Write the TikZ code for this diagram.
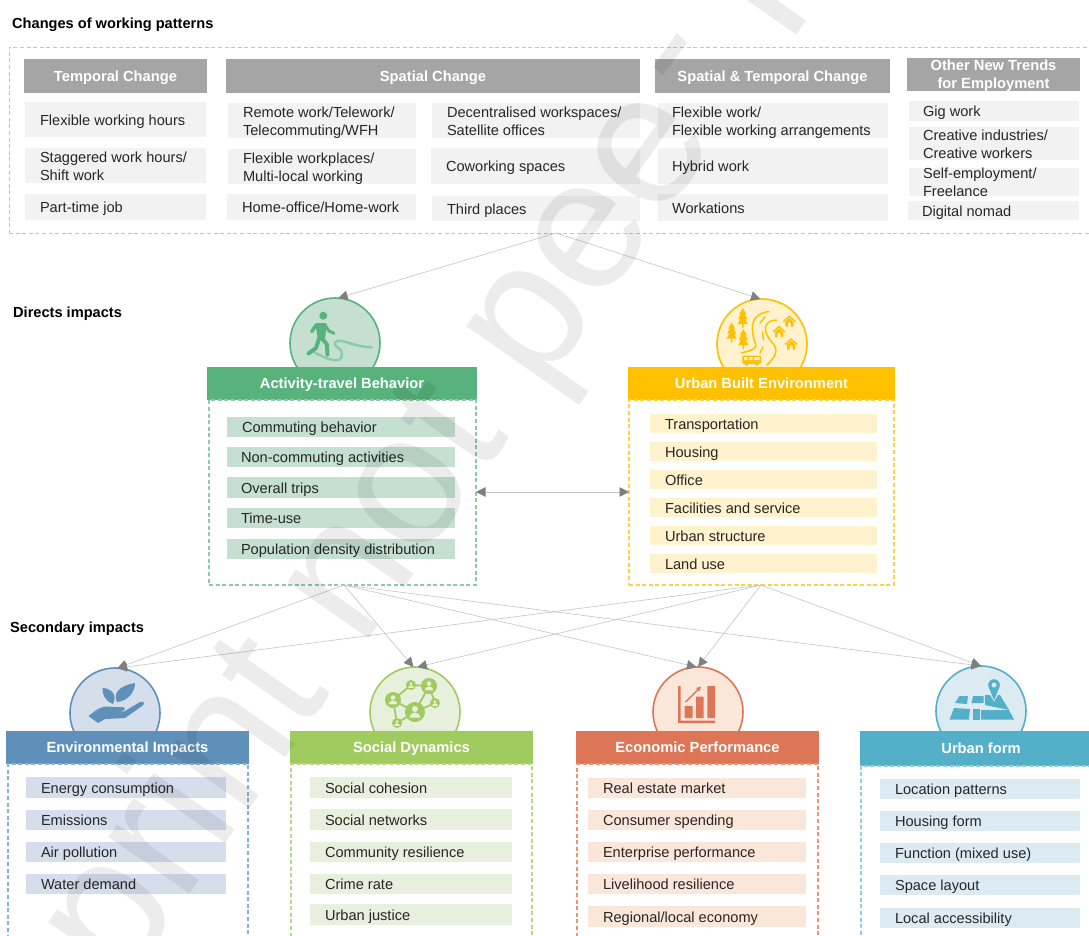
\documentclass[tikz,border=0pt]{standalone}
\usepackage{fontspec}
\setmainfont{Liberation Sans}
\usetikzlibrary{arrows.meta}
\definecolor{hgray}{HTML}{A5A5A5}\definecolor{igray}{HTML}{F2F2F2}
\definecolor{ag}{HTML}{57B27C}\definecolor{agl}{HTML}{C5E0D0}\definecolor{agd}{HTML}{8CCBA8}
\definecolor{ay}{HTML}{FFC000}\definecolor{ayl}{HTML}{FFF2CC}\definecolor{ayd}{HTML}{FFD040}
\definecolor{ab}{HTML}{5F90B9}\definecolor{abl}{HTML}{D5DFEC}\definecolor{abd}{HTML}{86B2DA}
\definecolor{as}{HTML}{A0CB5F}\definecolor{asl}{HTML}{E7EFDD}\definecolor{asd}{HTML}{B6DA82}
\definecolor{ae}{HTML}{DC7657}\definecolor{ael}{HTML}{FBE7D9}\definecolor{aed}{HTML}{EE9274}
\definecolor{af}{HTML}{54B0C9}\definecolor{afl}{HTML}{DCEBF2}\definecolor{afd}{HTML}{8DD0E0}
\definecolor{lin}{HTML}{C4C4C4}\definecolor{tip}{HTML}{7F7F7F}\definecolor{txt}{HTML}{262626}
\tikzset{
 boxbase/.style={rectangle,inner sep=0pt,outer sep=0pt},
 dbox/.style={draw=#1,dash pattern=on 4pt off 2.6pt,line width=1.2pt},
 outerbox/.style={draw=lin,dash pattern=on 4pt off 2.6pt,line width=0.9pt},
 itemtxt/.style={anchor=west,inner sep=0pt,outer sep=0pt,align=left,text=txt,yshift=-2.3pt,font=\fontsize{14.6}{18}\selectfont},
 hdrtxt/.style={inner sep=0pt,align=center,text=white,yshift=-1.5pt,font=\fontsize{14.7}{18}\selectfont\bfseries},
 seclabel/.style={anchor=west,inner sep=0pt,text=black,yshift=-1.5pt,font=\fontsize{14.6}{16}\selectfont\bfseries},
 conn/.style={draw=lin,line width=0.6pt,-{Triangle[length=9.5pt,width=9.5pt,color=tip]}},
 conn2/.style={draw=lin,line width=0.6pt,{Triangle[length=9.5pt,width=9.5pt,color=tip]}-{Triangle[length=9.5pt,width=9.5pt,color=tip]}},
 badge/.style={circle,minimum size=90pt,inner sep=0pt,outer sep=0pt,line width=1.6pt},
}
\newcommand{\rbox}[6]{\pgfmathsetmacro\rw{#4-#2}\pgfmathsetmacro\rh{#5-#3}%
 \node[boxbase,#6,minimum width=\rw pt,minimum height=\rh pt,anchor=north west] (#1) at (#2,#3) {};}
\newcommand{\itm}[8]{\rbox{#1}{#2}{#3}{#4}{#5}{fill=#6}%
 \node[itemtxt] (#1t) at (#7,{(#3+#5)/2}) {\strut #8\strut};}
\newcommand{\hdr}[7]{\rbox{#1}{#2}{#3}{#4}{#5}{fill=#6}%
 \node[hdrtxt] (#1t) at (#1.center) {\strut #7\strut};}
\newcommand{\netnode}[3]{\fill[as] (#1,#2) circle (#3);
 \fill[asl] (#1,{#2-0.3*#3}) circle ({0.3*#3});
 \fill[asl] ({#1-0.55*#3},{#2+0.55*#3}) arc (180:360:{0.55*#3} and {0.5*#3}) -- cycle;}
\newcommand{\tree}[2]{\fill[ay] (#1,{#2-9}) -- ({#1+3.5},{#2-3}) -- ({#1+2},{#2-3}) -- ({#1+4.5},{#2+2}) -- ({#1+2.5},{#2+2}) -- ({#1+5},{#2+7}) -- ({#1+0.7},{#2+7}) -- ({#1+0.7},{#2+11}) -- ({#1-0.7},{#2+11}) -- ({#1-0.7},{#2+7}) -- ({#1-5},{#2+7}) -- ({#1-2.5},{#2+2}) -- ({#1-4.5},{#2+2}) -- ({#1-2},{#2-3}) -- ({#1-3.5},{#2-3}) -- cycle;}
\newcommand{\house}[2]{\draw[ay,line width=1.4pt] ({#1-6},{#2}) -- (#1,{#2-5.5}) -- ({#1+6},{#2});
 \fill[ay] ({#1-4},{#2}) -- (#1,{#2-3.6}) -- ({#1+4},{#2}) -- ({#1+4},{#2+5}) -- ({#1+1.5},{#2+5}) -- ({#1+1.5},{#2+1}) -- ({#1-1.5},{#2+1}) -- ({#1-1.5},{#2+5}) -- ({#1-4},{#2+5}) -- cycle;}
\begin{document}
\begin{tikzpicture}[x=1pt,y=-1pt]
\useasboundingbox (0,0) rectangle (1089,935);
\clip (0,0) rectangle (1089,935);
\fill[white] (0,0) rectangle (1089,935);

% section labels
\node[seclabel] (l1) at (12,23) {Changes of working patterns};
\node[seclabel] (l2) at (13,312) {Directs impacts};
\node[seclabel] (l3) at (10,627) {Secondary impacts};

% working patterns
\rbox{outer}{9}{47}{1095}{233}{outerbox}
\hdr{h1}{24}{59}{207}{93}{hgray}{Temporal Change}
\hdr{h2}{226}{59}{640}{93}{hgray}{Spatial Change}
\hdr{h3}{655}{59}{890}{93}{hgray}{Spatial \& Temporal Change}
\hdr{h4}{907}{58}{1080}{91}{hgray}{Other New Trends\\for Employment}
\itm{t1}{25}{102}{206}{137}{igray}{40}{Flexible working hours}
\itm{t2}{25}{148}{206}{183}{igray}{40}{Staggered work hours/\\Shift work}
\itm{t3}{25}{194}{206}{220}{igray}{40}{Part-time job}
\itm{s1}{228}{103}{416}{138}{igray}{243}{Remote work/Telework/\\Telecommuting/WFH}
\itm{s2}{228}{149}{416}{184}{igray}{243}{Flexible workplaces/\\Multi-local working}
\itm{s3}{227}{194}{416}{220}{igray}{242}{Home-office/Home-work}
\itm{s4}{432}{103}{640}{138}{igray}{447}{Decentralised workspaces/\\Satellite offices}
\itm{s5}{431}{148}{640}{184}{igray}{446}{Coworking spaces}
\itm{s6}{432}{196}{640}{221}{igray}{447}{Third places}
\itm{b1}{658}{103}{888}{138}{igray}{672}{Flexible work/\\Flexible working arrangements}
\itm{b2}{658}{148}{888}{184}{igray}{672}{Hybrid work}
\itm{b3}{658}{194}{888}{221}{igray}{672}{Workations}
\itm{o1}{909}{101}{1079}{121}{igray}{923}{Gig work}
\itm{o2}{909}{127}{1079}{160}{igray}{923}{Creative industries/\\Creative workers}
\itm{o3}{909}{168}{1079}{196}{igray}{923}{Self-employment/\\Freelance}
\itm{o4}{908}{201}{1079}{220}{igray}{922}{Digital nomad}
\coordinate (outbot) at (556,233);

% direct impacts
\node[badge,draw=ag,fill=agl] (cact) at (335,343) {};
% walker icon
\draw[agd,line width=2.5pt,line cap=round] (315,352.7) .. controls (325,358) and (342,366) .. (342,354) .. controls (342,347) and (333,347) .. (335,343) .. controls (338,336) and (352,347) .. (372,347.3);
\fill[ag] (323.3,315.7) circle (4);
\fill[ag,rounded corners=1.5pt] (315,323) -- (327,323) -- (325,339) -- (318,339) -- cycle;
\draw[ag,line width=3.4pt,line cap=round,line join=round] (316,325) -- (311.7,331.7);
\draw[ag,line width=3pt,line cap=round,line join=round] (326,326.5) -- (329,331) -- (334,333.3);
\draw[ag,line width=4pt,line cap=round,line join=round] (321.7,338) -- (327,344.5) -- (327.5,354.5);
\draw[ag,line width=4pt,line cap=round,line join=round] (319,339) -- (316,348) -- (308.5,353.5);

\node[badge,draw=ay,fill=ayl] (cbuilt) at (762,344) {};
\tree{742.7}{317}\tree{731.7}{331.7}\tree{743.3}{338}
\house{789.3}{321.7}\house{779}{332}\house{791}{344.5}
\draw[ay,line width=1.5pt,line cap=round] (769,311.5) .. controls (750,314) and (752,328) .. (753,335) .. controls (755,346) and (762,348) .. (741.5,353);
\draw[ay,line width=1.5pt,line cap=round] (776.5,320) .. controls (762,321) and (764,332) .. (770,340) .. controls (780,350) and (776,356) .. (767,365);
\draw[ay,line width=1.5pt,line cap=round] (765,317) -- (760,323) (762.5,332) -- (763.5,340) (763,347) -- (760,353);
\fill[ay,rounded corners=1.2pt] (742.3,355.5) rectangle (761,364);
\fill[ayl] (744,357.2) rectangle (747.5,360) (749,357.2) rectangle (752.5,360) (754,357.2) rectangle (759.5,360);
\fill[ay] (746.5,364.5) circle (1.7) (756.5,364.5) circle (1.7);

\hdr{hact}{207}{367}{477}{400}{ag}{Activity-travel Behavior}
\rbox{dact}{209}{400}{476}{585}{dbox=agd}
\itm{a1}{227}{417}{455}{437}{agl}{242}{Commuting behavior}
\itm{a2}{227}{447}{455}{467}{agl}{241}{Non-commuting activities}
\itm{a3}{227}{477}{455}{498}{agl}{241}{Overall trips}
\itm{a4}{227}{508}{455}{528}{agl}{241}{Time-use}
\itm{a5}{227}{539}{455}{559}{agl}{241}{Population density distribution}

\hdr{hbuilt}{628}{367}{895}{400}{ay}{Urban Built Environment}
\rbox{dbuilt}{629}{400}{894}{585}{dbox=ayd}
\itm{u1}{650}{414}{877}{433}{ayl}{665}{Transportation}
\itm{u2}{650}{442}{877}{461}{ayl}{665}{Housing}
\itm{u3}{650}{470}{877}{489}{ayl}{665}{Office}
\itm{u4}{650}{498}{877}{517}{ayl}{665}{Facilities and service}
\itm{u5}{650}{526}{877}{545}{ayl}{665}{Urban structure}
\itm{u6}{650}{554}{877}{573}{ayl}{665}{Land use}
\coordinate (actbot) at (344,585);
\coordinate (builtbot) at (761,585);

% secondary impacts
\node[badge,draw=ab,fill=abl] (cenv) at (115,713) {};
\fill[ab] (113,704) .. controls (105,701) and (102,694) .. (102.5,688) .. controls (110,688) and (118,694) .. (113,704) -- cycle;
\fill[ab] (117,702) .. controls (113,694) and (118,686) .. (135,683) .. controls (135,692) and (128,701) .. (117,702) -- cycle;
\fill[ab] (88.5,716) -- (95,711) .. controls (102,706) and (107,706) .. (113,707) -- (122,707) .. controls (126,707) and (126,711) .. (121,711) -- (113,711) -- (124,711.5) -- (140,702) .. controls (145,701) and (145,704) .. (142,706) -- (125,718) -- (105,719) -- (98,723) -- cycle;

\node[badge,draw=as,fill=asl] (csoc) at (415,712) {};
\draw[as,line width=1.8pt] (393,700) -- (411,685) -- (429,686) -- (415,712) -- (393,700) -- (397,723) -- (415,712) -- (435,703) -- (429,686);
\netnode{415}{712}{10}\netnode{429}{686}{8}\netnode{393}{700}{8}
\netnode{411}{685}{5}\netnode{435}{703}{5}\netnode{397}{723}{5}

\node[badge,draw=ae,fill=ael] (ceco) at (698,712) {};
\fill[ae] (678,686) rectangle (680.5,723) (678,720.5) rectangle (715,723);
\fill[ae] (684.7,706) rectangle (692.6,718) (696,696.7) rectangle (703.6,718) (707.4,686) rectangle (715,718);
\draw[ae,line width=1.4pt,-{Triangle[length=4.5pt,width=4.5pt]}] (685.5,702) -- (701,686.5);

\node[badge,draw=af,fill=afl] (cform) at (981,711) {};
\fill[af] (959.5,696) -- (968,696) -- (967,704) -- (955,703) -- cycle;
\fill[af] (973,696) -- (983.5,696) -- (983.5,703) -- (971.5,703) -- cycle;
\fill[af] (985,695) -- (990,695) -- (994,702) -- (998,695) -- (1000,695) -- (1009,710) -- (985,705) -- cycle;
\fill[af] (954,708) -- (970,709) -- (969,719.5) -- (949.5,719.5) -- cycle;
\fill[af] (981,710) -- (1009,710) -- (1014,719.5) -- (981,719.5) -- cycle;
\fill[af] (972.5,709) rectangle (980,719.5);
\fill[af,even odd rule] (994,685) circle (5.8) (994,685) circle (2.6);
\fill[af] (988.6,687) -- (994,700.5) -- (999.4,687) -- (996,689.5) -- (992,689.5) -- cycle;

\hdr{henv}{6}{731}{249}{764}{ab}{Environmental Impacts}
\rbox{denv}{8}{764}{248}{945}{dbox=abd}
\itm{e1}{26}{777}{226}{798}{abl}{41}{Energy consumption}
\itm{e2}{26}{810}{226}{830}{abl}{41}{Emissions}
\itm{e3}{26}{842}{226}{862}{abl}{41}{Air pollution}
\itm{e4}{26}{874}{226}{894}{abl}{41}{Water demand}

\hdr{hsoc}{290}{731}{533}{764}{as}{Social Dynamics}
\rbox{dsoc}{291}{764}{532}{945}{dbox=asd}
\itm{d1}{310}{777}{512}{798}{asl}{325}{Social cohesion}
\itm{d2}{310}{809}{512}{830}{asl}{325}{Social networks}
\itm{d3}{310}{842}{512}{862}{asl}{325}{Community resilience}
\itm{d4}{310}{874}{512}{894}{asl}{325}{Crime rate}
\itm{d5}{310}{904}{512}{925}{asl}{325}{Urban justice}

\hdr{heco}{576}{731}{819}{764}{ae}{Economic Performance}
\rbox{deco}{577}{764}{818}{945}{dbox=aed}
\itm{p1}{588}{778}{806}{798}{ael}{603}{Real estate market}
\itm{p2}{588}{810}{806}{830}{ael}{603}{Consumer spending}
\itm{p3}{588}{842}{806}{862}{ael}{603}{Enterprise performance}
\itm{p4}{588}{874}{806}{894}{ael}{603}{Livelihood resilience}
\itm{p5}{588}{906}{806}{927}{ael}{603}{Regional/local economy}

\hdr{hform}{860}{731}{1095}{766}{af}{\hspace{7pt}Urban form}
\rbox{dform}{861}{766}{1095}{945}{dbox=afd}
\itm{f1}{880}{779}{1080}{799}{afl}{895}{Location patterns}
\itm{f2}{880}{811}{1080}{831}{afl}{895}{Housing form}
\itm{f3}{880}{843}{1080}{863}{afl}{895}{Function (mixed use)}
\itm{f4}{880}{875}{1080}{895}{afl}{895}{Space layout}
\itm{f5}{880}{908}{1080}{928}{afl}{895}{Local accessibility}

% connectors
\draw[conn] (outbot) -- (cact.86);
\draw[conn] (outbot) -- (cbuilt.92);
\draw[conn2] (dact.east |- 0,492) -- (dbuilt.west |- 0,492);
\draw[conn] (actbot) -- (cenv.87);
\draw[conn] (builtbot) -- (cenv.87);
\draw[conn] (actbot) -- (csoc.92);
\draw[conn] (builtbot) -- (csoc.87);
\draw[conn] (actbot) -- (ceco.92);
\draw[conn] (builtbot) -- (ceco.90);
\draw[conn] (actbot) -- (cform.90);
\draw[conn] (builtbot) -- (cform.90);

% watermark
\node[inner sep=0pt,rotate=55,text=black,text opacity=0.075,font=\fontsize{187}{187}\selectfont] (wm) at (381.5,536) {print not pee};
\fill[black,opacity=0.075] (653,67) -- (663,75) -- (687,43) -- (677,33) -- cycle;
\fill[black,opacity=0.075] (805.9,20.5) -- (796.1,34.5) -- (739,-5.5) -- (749,-19.5) -- cycle;
\end{tikzpicture}
\end{document}
